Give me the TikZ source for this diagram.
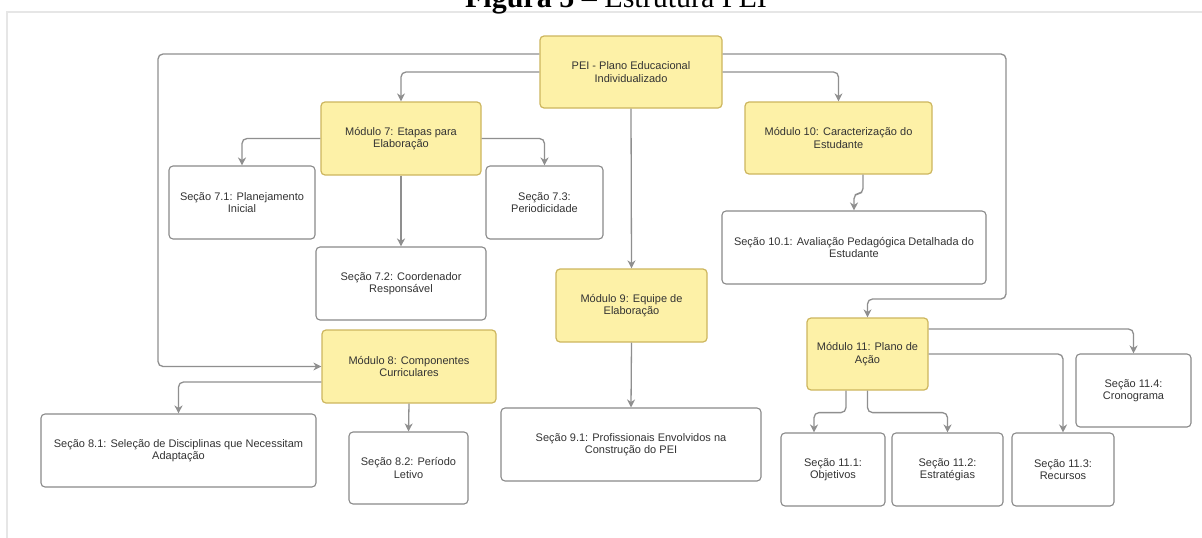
\documentclass[tikz,border=0pt]{standalone}
\usepackage{fontspec}
\setmainfont{Liberation Serif}
\newfontfamily\boxfont{Liberation Sans}
\usepackage{tikz}
\usetikzlibrary{arrows.meta}

\definecolor{modfill}{HTML}{FDF1A7}
\definecolor{modline}{HTML}{CDB65E}
\definecolor{secline}{HTML}{8A8A8A}
\definecolor{linegray}{HTML}{8F8F8F}
\definecolor{txt}{HTML}{333333}
\definecolor{frame}{HTML}{E6E6E6}

\tikzset{
	modbox/.style={draw=modline, fill=modfill, rounded corners=4pt, line width=1.2pt, inner sep=0pt,
		align=center, text=txt, font=\boxfont\fontsize{11}{12.5}\selectfont},
	secbox/.style={draw=secline, fill=white, rounded corners=4pt, line width=1.1pt, inner sep=0pt,
		align=center, text=txt, font=\boxfont\fontsize{11}{12.5}\selectfont},
	conn/.style={draw=linegray, line width=1.3pt, rounded corners=5pt,
		-{Stealth[length=8pt,width=8pt,inset=2.5pt]}}
}

\begin{document}
\begin{tikzpicture}[x=1pt,y=-1pt]
	\useasboundingbox (0,0) rectangle (1202,538);
	\clip (0,0) rectangle (1202,538);
	\fill[white] (0,0) rectangle (1202,538);
	\draw[frame, fill=white, line width=1.2pt] (7,12) rectangle (1210,545);
	\node[anchor=base, font=\fontsize{30}{32}\selectfont] (title) at (616,7) {\textbf{Figura 5 --} Estrutura PEI};

	% modulos
	\node[modbox, minimum width=182, minimum height=72] (pei) at (631,72) {PEI - Plano Educacional\\Individualizado};
	\node[modbox, minimum width=160, minimum height=73] (m7) at (401,138.5) {Módulo 7: Etapas para\\Elaboração};
	\node[modbox, minimum width=174, minimum height=73] (m8) at (409,366.5) {Módulo 8: Componentes\\Curriculares};
	\node[modbox, minimum width=151, minimum height=73] (m9) at (631.5,305.5) {Módulo 9: Equipe de\\Elaboração};
	\node[modbox, minimum width=187, minimum height=72] (m10) at (838.5,138) {Módulo 10: Caracterização do\\Estudante};
	\node[modbox, minimum width=121, minimum height=72] (m11) at (867.5,354) {Módulo 11: Plano de\\Ação};

	% secoes
	\node[secbox, minimum width=146, minimum height=73] (s71) at (242,202.5) {Seção 7.1: Planejamento\\Inicial};
	\node[secbox, minimum width=170, minimum height=73] (s72) at (401,283.5) {Seção 7.2: Coordenador\\Responsável};
	\node[secbox, minimum width=117, minimum height=73] (s73) at (544.5,202.5) {Seção 7.3:\\Periodicidade};
	\node[secbox, minimum width=275, minimum height=73] (s81) at (178.5,450.5) {Seção 8.1: Seleção de Disciplinas que Necessitam\\Adaptação};
	\node[secbox, minimum width=119, minimum height=72] (s82) at (408.5,468) {Seção 8.2: Período\\Letivo};
	\node[secbox, minimum width=260, minimum height=73] (s91) at (631,444.5) {Seção 9.1: Profissionais Envolvidos na\\Construção do PEI};
	\node[secbox, minimum width=264, minimum height=73] (s101) at (854,247.5) {Seção 10.1: Avaliação Pedagógica Detalhada do\\Estudante};
	\node[secbox, minimum width=104, minimum height=73] (s111) at (833,469.5) {Seção 11.1:\\Objetivos};
	\node[secbox, minimum width=111, minimum height=73] (s112) at (947.5,469.5) {Seção 11.2:\\Estratégias};
	\node[secbox, minimum width=102, minimum height=73] (s113) at (1063,469.5) {Seção 11.3:\\Recursos};
	\node[secbox, minimum width=115, minimum height=73] (s114) at (1133.5,390.5) {Seção 11.4:\\Cronograma};

	\coordinate (loopL) at (158,54);
	\coordinate (loopR) at (1006,54);
	\coordinate (loopRb) at (1006,299);

	% ligacoes
	\draw[conn] (pei.west) -| (m7.north);
	\draw[conn] (pei.west |- loopL) -- (loopL) |- (m8.west);
	\draw[conn] (pei.east) -| (m10.north);
	\draw[conn] (pei.east |- loopR) -- (loopR) -- (loopRb) -| (m11.north);
	\draw[conn] (pei.south) -- (m9.north);
	\draw[conn] (m7.west) -| (s71.north);
	\draw[conn] (m7.east) -| (s73.north);
	\draw[conn] (m7.south) -- (s72.north);
	\draw[conn] ([yshift=-15.5pt]m8.west) -| (s81.north);
	\draw[conn] (m8.south) -- (s82.north);
	\draw[conn] (m9.south) -- (s91.north);
	\draw[conn] ([xshift=24.5pt]m10.south) -- ++(0,19) -| (s101.north);
	\draw[conn] ([yshift=25pt]m11.east) -| (s114.north);
	\draw[conn] (m11.east) -| (s113.north);
	\draw[conn] ([xshift=-21.5pt]m11.south) -- ++(0,22) -| ([xshift=-19pt]s111.north);
	\draw[conn] (m11.south) -- ++(0,22) -| (s112.north);
\end{tikzpicture}
\end{document}
